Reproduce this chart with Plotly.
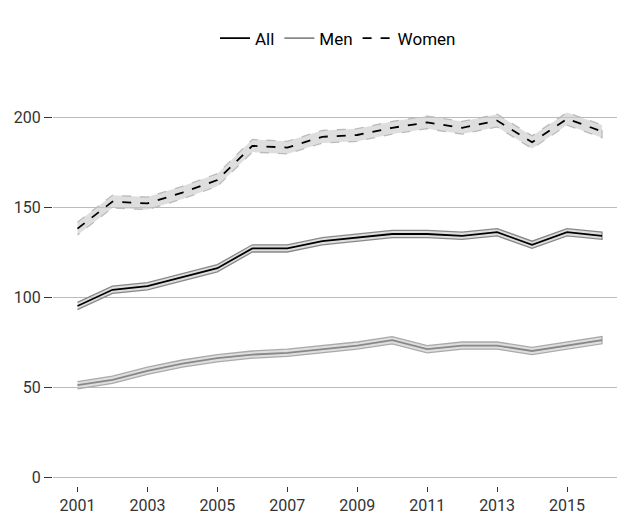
import plotly.graph_objects as go

years = list(range(2001, 2017))
all_vals = [95, 104, 106, 111, 116, 127, 127, 131, 133, 135, 135, 134, 136, 129, 136, 134]
men_vals = [51, 54, 59, 63, 66, 68, 69, 71, 73, 76, 71, 73, 73, 70, 73, 76]
women_vals = [138, 153, 152, 158, 165, 184, 183, 189, 190, 194, 197, 194, 198, 186, 199, 192]
bands = {"All": 2.0, "Men": 2.0, "Women": 3.5}

fig = go.Figure()

def add_series(name, vals, line_color, dash, band_line, band_dash):
    w = bands[name]
    up = [v + w for v in vals]
    lo = [v - w for v in vals]
    fig.add_trace(go.Scatter(
        x=years + years[::-1], y=up + lo[::-1], fill="toself",
        fillcolor="rgba(200,200,200,0.6)",
        line=dict(color=band_line, width=1.3, dash=band_dash),
        hoverinfo="skip", showlegend=False, legendgroup=name))
    fig.add_trace(go.Scatter(
        x=years, y=vals, mode="lines", name=name, legendgroup=name,
        line=dict(color=line_color, width=1.8, dash=dash)))

add_series("All", all_vals, "black", "solid", "#888888", "solid")
add_series("Men", men_vals, "#888888", "solid", "#aaaaaa", "solid")
add_series("Women", women_vals, "black", "dash", "#bbbbbb", "dash")

fig.update_layout(
    width=625, height=520, plot_bgcolor="white", paper_bgcolor="white",
    font=dict(family="Roboto", size=17, color="#333333"),
    margin=dict(l=45, r=10, t=82, b=42, autoexpand=False),
    legend=dict(orientation="h", x=0.5, xanchor="center", y=1.13, yanchor="middle",
                font=dict(size=17, color="black")),
)
fig.update_xaxes(range=[2000.3, 2016.6], tickvals=list(range(2001, 2017, 2)),
                 showgrid=False, zeroline=False, ticks="outside", ticklen=5,
                 tickcolor="#333333", tickfont=dict(size=16, color="#333333"))
fig.update_yaxes(range=[-5, 215], tickvals=[0, 50, 100, 150, 200],
                 showgrid=True, gridcolor="#bbbbbb", gridwidth=1.2, zeroline=False,
                 ticks="outside", ticklen=8, tickcolor="#333333",
                 tickfont=dict(size=16, color="#333333"))
fig.write_html("out.html")
